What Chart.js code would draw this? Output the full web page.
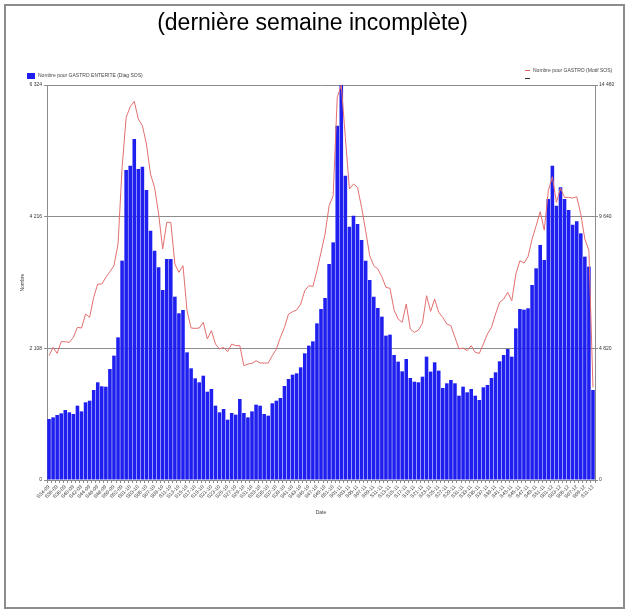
<!DOCTYPE html>
<html>
<head>
<meta charset="utf-8">
<script src="https://cdn.jsdelivr.net/npm/chart.js@4"></script>
<style>
  html, body { margin: 0; padding: 0; background: #fff; }
  body { width: 625px; height: 609px; position: relative; overflow: hidden; font-family: 'Liberation Sans', Arial, sans-serif; }
  #frame { position: absolute; left: 4px; top: 4px; width: 617px; height: 601px; border: 2px solid #8c8c8c; }
  #title { position: absolute; left: 0; width: 625px; top: 9px; text-align: center; font-size: 23px; color: #000; }
  .leg { position: absolute; font-size: 5px; color: #444; white-space: nowrap; line-height: 6px; }
  .sw { display: inline-block; vertical-align: middle; margin-right: 3px; }
  #wrap { position: absolute; left: 0; top: 0; width: 625px; height: 609px; }
</style>
</head>
<body>
<div id="wrap"><canvas id="gastroChart"></canvas></div>
<div id="frame"></div>
<div id="title">(dernière semaine incomplète)</div>
<div class="leg" style="left:27px;top:72px;"><span class="sw" style="width:8px;height:6px;background:#1f1fef;"></span>Nombre pour GASTRO ENTERITE (Diag SOS)</div>
<div class="leg" style="left:525px;top:67px;"><span class="sw" style="width:5px;height:1px;background:#e06060;"></span>Nombre pour GASTRO (Motif SOS)</div>
<div class="leg" style="left:525px;top:75px;"><span class="sw" style="width:5px;height:1px;background:#333;"></span></div>
<script>
// ============================================================
// Gastro-entérite SOS Médecins — weekly counts, S34-09 .. S11-12
// ============================================================

const weeks = [
    'S34-09','S35-09','S36-09','S37-09','S38-09','S39-09','S40-09','S41-09','S42-09','S43-09',
    'S44-09','S45-09','S46-09','S47-09','S48-09','S49-09','S50-09','S51-09','S52-09','S53-09',
    'S01-10','S02-10','S03-10','S04-10','S05-10','S06-10','S07-10','S08-10','S09-10','S10-10',
    'S11-10','S12-10','S13-10','S14-10','S15-10','S16-10','S17-10','S18-10','S19-10','S20-10',
    'S21-10','S22-10','S23-10','S24-10','S25-10','S26-10','S27-10','S28-10','S29-10','S30-10',
    'S31-10','S32-10','S33-10','S34-10','S35-10','S36-10','S37-10','S38-10','S39-10','S40-10',
    'S41-10','S42-10','S43-10','S44-10','S45-10','S46-10','S47-10','S48-10','S49-10','S50-10',
    'S51-10','S52-10','S01-11','S02-11','S03-11','S04-11','S05-11','S06-11','S07-11','S08-11',
    'S09-11','S10-11','S11-11','S12-11','S13-11','S14-11','S15-11','S16-11','S17-11','S18-11',
    'S19-11','S20-11','S21-11','S22-11','S23-11','S24-11','S25-11','S26-11','S27-11','S28-11',
    'S29-11','S30-11','S31-11','S32-11','S33-11','S34-11','S35-11','S36-11','S37-11','S38-11',
    'S39-11','S40-11','S41-11','S42-11','S43-11','S44-11','S45-11','S46-11','S47-11','S48-11',
    'S49-11','S50-11','S51-11','S52-11','S01-12','S02-12','S03-12','S04-12','S05-12','S06-12',
    'S07-12','S08-12','S09-12','S10-12','S11-12'
];

// Bars: Nombre pour GASTRO ENTERITE (Diag SOS) — left axis
const diagSOS = [
    977, 1003, 1041, 1067, 1121, 1083, 1057, 1190, 1099, 1244,
    1270, 1441, 1564, 1500, 1494, 1777, 1991, 2284, 3512, 4963,
    5033, 5460, 4979, 5017, 4643, 3992, 3672, 3405, 3042, 3538,
    3538, 2935, 2669, 2722, 2044, 1788, 1628, 1564, 1670, 1414,
    1457, 1190, 1083, 1137, 966, 1073, 1046, 1297, 1073, 1003,
    1099, 1206, 1190, 1057, 1030, 1228, 1270, 1313, 1505, 1617,
    1686, 1708, 1804, 2028, 2151, 2220, 2508, 2738, 2914, 3458,
    3805, 5673, 6324, 4873, 4056, 4232, 4099, 3843, 3512, 3202,
    2935, 2754, 2615, 2311, 2327, 2001, 1895, 1740, 1937, 1633,
    1574, 1564, 1654, 1975, 1735, 1884, 1751, 1473, 1548, 1601,
    1548, 1350, 1494, 1404, 1457, 1350, 1281, 1484, 1521, 1633,
    1724, 1900, 2001, 2097, 1975, 2428, 2738, 2727, 2749, 3122,
    3389, 3763, 3522, 4499, 5033, 4392, 4686, 4499, 4323, 4088,
    4141, 3949, 3576, 3416, 1441
];

// Line: Nombre pour GASTRO (Motif SOS) — right axis
const motifSOS = [
    4551, 4856, 4636, 5063, 5063, 5039, 5222, 5588, 5563, 6076,
    5954, 6686, 7174, 7174, 7418, 7625, 7845, 8638, 11444, 13274,
    13664, 13859, 13213, 12969, 12298, 11200, 10712, 9736, 8455, 9431,
    9431, 7906, 7601, 7845, 6198, 5563, 5551, 5563, 5771, 5161,
    5466, 4978, 4795, 4856, 4697, 4978, 4917, 4917, 4185, 4246,
    4270, 4368, 4282, 4282, 4282, 4551, 4795, 5222, 5588, 6076,
    6161, 6222, 6442, 6930, 7113, 7088, 7662, 8333, 9000, 10041,
    10407, 14006, 14460, 12542, 10651, 10834, 10712, 9980, 9126, 8211,
    7845, 7723, 7442, 7052, 7015, 6222, 5893, 5771, 6442, 5527,
    5405, 5490, 5734, 6747, 6173, 6625, 6137, 5954, 5710, 5649,
    5222, 4795, 4831, 4734, 4917, 4673, 4636, 4978, 5344, 5588,
    6076, 6503, 6625, 6869, 6564, 7540, 8028, 7942, 8174, 8821,
    9309, 9821, 9150, 10590, 11102, 10163, 10687, 10346, 10346, 10321,
    10370, 9736, 8821, 8394, 3392
];

const leftTicks  = [0, 2108, 4216, 6324];
const rightTicks = [0, 4820, 9640, 14460];

const fmt = v => String(v).replace(/\B(?=(\d{3})+(?!\d))/g, ' ');
const tickFont = { family: 'Liberation Sans', size: 5 };
const axisGrey = '#8c8c8c';

new Chart(document.getElementById('gastroChart').getContext('2d'), {
    data: {
        labels: weeks,
        datasets: [
            {
                type: 'line',
                label: 'Nombre pour GASTRO (Motif SOS)',
                data: motifSOS,
                yAxisID: 'y1',
                borderColor: '#e36f6f',
                borderWidth: 1,
                pointRadius: 0,
                tension: 0,
                order: 0
            },
            {
                type: 'bar',
                label: 'Nombre pour GASTRO ENTERITE (Diag SOS)',
                data: diagSOS,
                yAxisID: 'y',
                backgroundColor: '#1f1fef',
                barPercentage: 0.88,
                categoryPercentage: 1,
                order: 1
            }
        ]
    },
    options: {
        responsive: true,
        maintainAspectRatio: false,
        animation: false,
        layout: { padding: { top: 85, left: 20, right: 0, bottom: 93 } },
        plugins: {
            legend: { display: false },
            tooltip: { enabled: false }
        },
        scales: {
            x: {
                afterFit: s => { s.height = 36; },
                grid: { drawOnChartArea: false, color: axisGrey, tickLength: 3 },
                border: { color: axisGrey },
                ticks: {
                    autoSkip: false,
                    maxRotation: 45,
                    minRotation: 45,
                    padding: 1,
                    color: '#333',
                    font: tickFont,
                    callback: (val, i) => (i % 2 === 0 ? weeks[i] : '')
                },
                title: { display: true, text: 'Date', color: '#444', font: { family: 'Liberation Sans', size: 5 }, padding: 0 }
            },
            y: {
                position: 'left',
                min: 0,
                max: 6324,
                afterFit: s => { s.width = 27; },
                afterBuildTicks: s => { s.ticks = leftTicks.map(v => ({ value: v })); },
                grid: { color: axisGrey, tickLength: 3 },
                border: { color: axisGrey },
                ticks: { color: '#333', font: tickFont, padding: 2, callback: v => fmt(v) },
                title: { display: true, text: 'Nombre', color: '#444', font: { family: 'Liberation Sans', size: 5 }, padding: 0 }
            },
            y1: {
                position: 'right',
                min: 0,
                max: 14460,
                afterFit: s => { s.width = 30; },
                afterBuildTicks: s => { s.ticks = rightTicks.map(v => ({ value: v })); },
                grid: { drawOnChartArea: false, color: axisGrey, tickLength: 3 },
                border: { color: axisGrey },
                ticks: { color: '#333', font: tickFont, padding: 1, callback: v => fmt(v) }
            }
        }
    }
});
</script>
</body>
</html>
